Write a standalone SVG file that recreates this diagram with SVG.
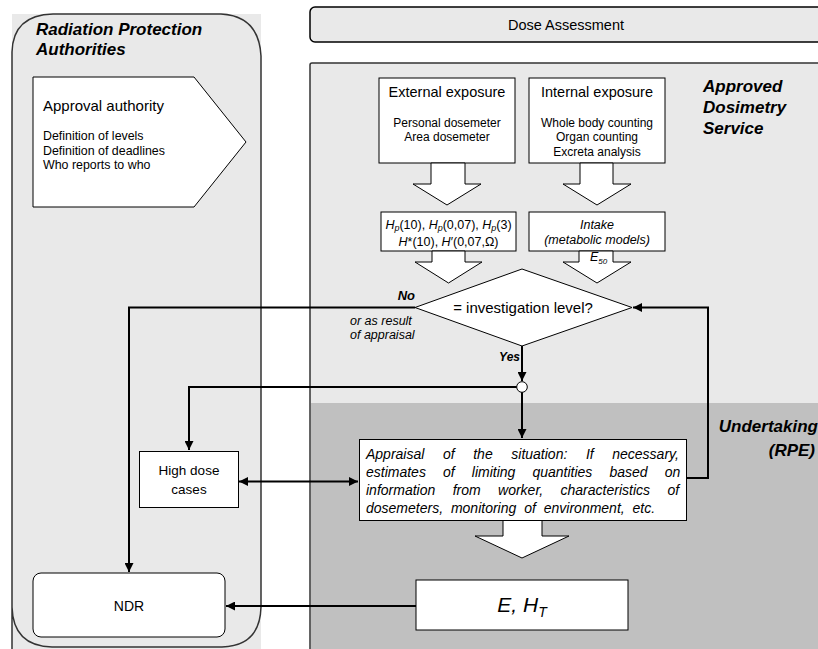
<svg xmlns="http://www.w3.org/2000/svg" width="818" height="649" viewBox="0 0 818 649">
<defs>
<marker id="ah" viewBox="0 0 10 10" refX="10" refY="5" markerWidth="4.5" markerHeight="4.5" orient="auto-start-reverse" markerUnits="strokeWidth">
<path d="M0,0 L10,5 L0,10 z" fill="#000"/>
</marker>
<style>
text{font-family:"Liberation Sans",Arial,sans-serif;fill:#000}
.bi{font-weight:bold;font-style:italic}
.it{font-style:italic}
.box{fill:#fff;stroke:#000;stroke-width:1}
.blk{fill:#fff;stroke:#000;stroke-width:1}
.con{fill:none;stroke:#000;stroke-width:2}
</style>
</defs>
<rect width="818" height="649" fill="#fff"/>
<g id="rpa">
<rect x="12" y="14" width="249" height="635" fill="#e9e9e9"/>
<path d="M12,649 L12,52 Q13,15 53,14 L221,14 Q259,16 261,56 L261,607 Q260,646 222,647 L52,647 Q13,646 12,607" fill="none" stroke="#333" stroke-width="1.5"/>
<text class="bi" x="36" y="35" font-size="17">Radiation Protection</text>
<text class="bi" x="36" y="55" font-size="17">Authorities</text>
</g>
<g id="approval">
<path class="box" d="M33,77 L194,77 L246,142 L194,207 L33,207 Z"/>
<text x="43" y="111" font-size="15">Approval authority</text>
<text x="43" y="140" font-size="12.4">Definition of levels</text>
<text x="43" y="155" font-size="12.4">Definition of deadlines</text>
<text x="43" y="169" font-size="12.4">Who reports to who</text>
</g>
<g id="dose-assessment">
<rect x="310" y="7" width="520" height="35" rx="5" fill="#e9e9e9" stroke="#000" stroke-width="1.5"/>
<text x="566" y="30" font-size="14.5" text-anchor="middle">Dose Assessment</text>
</g>
<g id="ads">
<rect x="310" y="63" width="520" height="600" rx="2" fill="#e9e9e9" stroke="#333" stroke-width="1.5"/>
<rect x="311" y="403" width="510" height="250" fill="#c0c0c0"/>
<text class="bi" x="703" y="92" font-size="17">Approved</text>
<text class="bi" x="703" y="113" font-size="17">Dosimetry</text>
<text class="bi" x="703" y="134" font-size="17">Service</text>
</g>
<g id="undertaking">
<text class="bi" x="818" y="432" font-size="17" text-anchor="end">Undertaking</text>
<text class="bi" x="815" y="456" font-size="17" text-anchor="end">(RPE)</text>
</g>
<g id="external">
<rect class="box" x="379" y="78" width="136" height="85"/>
<text x="447" y="97" font-size="14.5" text-anchor="middle">External exposure</text>
<text x="447" y="127" font-size="12" text-anchor="middle">Personal dosemeter</text>
<text x="447" y="141" font-size="12" text-anchor="middle">Area dosemeter</text>
<path class="blk" d="M431,163 L465,163 L465,184 L481,184 L447,205 L413,184 L431,184 Z"/>
</g>
<g id="internal">
<rect class="box" x="529" y="78" width="136" height="85"/>
<text x="597" y="97" font-size="14.5" text-anchor="middle">Internal exposure</text>
<text x="597" y="127" font-size="12" text-anchor="middle">Whole body counting</text>
<text x="597" y="141" font-size="12" text-anchor="middle">Organ counting</text>
<text x="597" y="156" font-size="12" text-anchor="middle">Excreta analysis</text>
<path class="blk" d="M580,163 L613,163 L613,184 L631,184 L597,205 L563,184 L580,184 Z"/>
</g>
<g id="hp">
<rect class="box" x="381" y="212" width="135" height="39"/>
<text x="448.5" y="228.5" font-size="12.5" text-anchor="middle"><tspan class="it">H</tspan><tspan class="it" font-size="9" dy="2.5">p</tspan><tspan dy="-2.5">(10), </tspan><tspan class="it">H</tspan><tspan class="it" font-size="9" dy="2.5">p</tspan><tspan dy="-2.5">(0,07), </tspan><tspan class="it">H</tspan><tspan class="it" font-size="9" dy="2.5">p</tspan><tspan dy="-2.5">(3)</tspan></text>
<text x="448.5" y="245.5" font-size="12.5" text-anchor="middle"><tspan class="it">H</tspan>*(10), <tspan class="it">H</tspan>′(0,07,Ω)</text>
<path class="blk" d="M432,251 L465,251 L465,262 L482,262 L448.5,283 L415,262 L432,262 Z"/>
</g>
<g id="intake">
<rect class="box" x="529" y="212" width="136" height="39"/>
<text class="it" x="597" y="229" font-size="12.5" text-anchor="middle">Intake</text>
<text class="it" x="597" y="244" font-size="12.5" text-anchor="middle">(metabolic models)</text>
<path class="blk" d="M579,251 L613,251 L613,262 L631,262 L597,283 L563,262 L579,262 Z"/>
<text class="it" x="590" y="261" font-size="12.5">E<tspan font-size="8" dy="3">50</tspan></text>
</g>
<g id="decision">
<path class="box" d="M415,307.5 L522,269 L632,307.5 L522,346 Z"/>
<text x="523" y="313" font-size="15" text-anchor="middle">= investigation level?</text>
</g>
<g id="junction">
<circle cx="522" cy="387" r="5.3" fill="#fff" stroke="#000" stroke-width="1"/>
</g>
<g id="high-dose">
<rect class="box" x="139.5" y="451.5" width="99" height="56"/>
<text x="189" y="475" font-size="13.5" text-anchor="middle">High dose</text>
<text x="189" y="494" font-size="13.5" text-anchor="middle">cases</text>
</g>
<g id="appraisal">
<rect class="box" x="359.5" y="439.5" width="327" height="81"/>
<text class="it" x="366" y="459" font-size="14" word-spacing="14.7">Appraisal of the situation: If necessary,</text>
<text class="it" x="366" y="477" font-size="14" word-spacing="13.2">estimates of limiting quantities based on</text>
<text class="it" x="366" y="495" font-size="14" word-spacing="13.5">information from worker, characteristics of</text>
<text class="it" x="366" y="513" font-size="14" word-spacing="4">dosemeters, monitoring of environment, etc.</text>
<path class="blk" d="M503,520.5 L542,520.5 L542,536 L569,536 L522,558 L475,536 L503,536 Z"/>
</g>
<g id="ndr">
<rect class="box" x="33" y="573" width="192" height="64" rx="8"/>
<text x="129" y="611" font-size="14" text-anchor="middle">NDR</text>
</g>
<g id="eht">
<rect class="box" x="416" y="580" width="212" height="50"/>
<text class="it" x="522" y="612" font-size="21" text-anchor="middle">E, H<tspan font-size="14" dy="5">T</tspan></text>
</g>
<g id="connectors">
<path class="con" d="M415,307.5 L129,307.5 L129,572" marker-end="url(#ah)"/>
<path class="con" d="M522,346 L522,381" marker-end="url(#ah)"/>
<path class="con" d="M516.7,387 L189,387 L189,450" marker-end="url(#ah)"/>
<path class="con" d="M522,392.3 L522,438" marker-end="url(#ah)"/>
<path class="con" d="M239,481.5 L358,481.5" marker-start="url(#ah)" marker-end="url(#ah)"/>
<path class="con" d="M687,478 L708,478 L708,307.5 L633,307.5" marker-end="url(#ah)"/>
<path class="con" d="M416,606 L226,606" marker-end="url(#ah)"/>
</g>
<g id="labels">
<text class="bi" x="415" y="300" font-size="13" text-anchor="end">No</text>
<text class="it" x="350" y="324.5" font-size="12.5">or as result</text>
<text class="it" x="350" y="339" font-size="12.5">of appraisal</text>
<text class="bi" x="520" y="361" font-size="12" text-anchor="end">Yes</text>
</g>
</svg>
